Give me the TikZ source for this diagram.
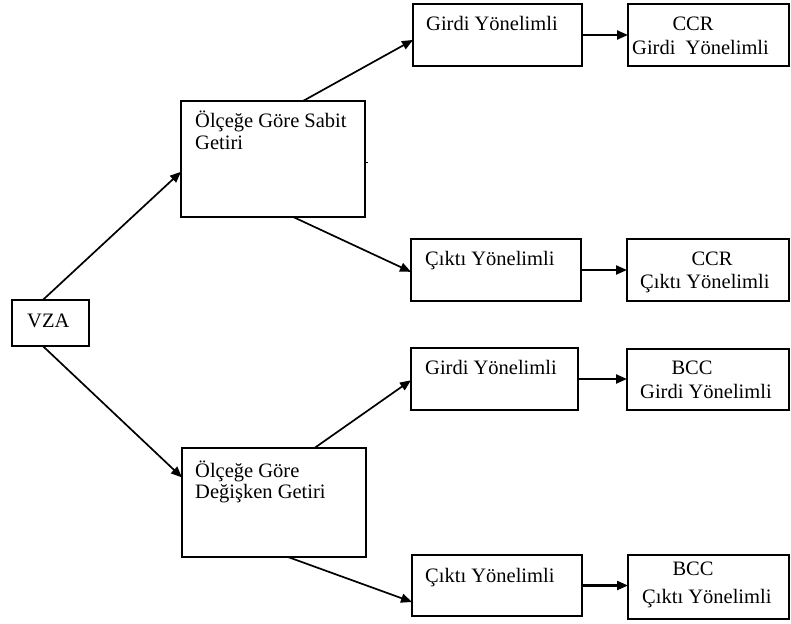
\documentclass[tikz,border=0pt]{standalone}
\usepackage{fontspec}
\setmainfont{Liberation Serif}
\usetikzlibrary{arrows.meta,calc}
\begin{document}
\begin{tikzpicture}[x=1pt,y=-1pt,
  box/.style={draw, line width=1.6pt, inner sep=0pt, outer sep=0pt},
  lbl/.style={anchor=base west, inner sep=0pt, font=\fontsize{20.5}{22}\selectfont},
  clbl/.style={anchor=base, inner sep=0pt, font=\fontsize{20.5}{22}\selectfont},
  conn/.style={line width=1.7pt, -{Triangle[length=11pt,width=9pt]}},
  hconn/.style={line width=2.2pt, -{Triangle[length=11pt,width=9pt]}},
]
\useasboundingbox (0,0) rectangle (791,623);

% boxes
\node[box, minimum width=77pt, minimum height=46pt] (vza) at (50.5,323) {};
\node[box, minimum width=184pt, minimum height=116pt] (sabit) at (273,159) {};
\node[box, minimum width=184pt, minimum height=109pt] (degisken) at (274,502.5) {};
\node[box, minimum width=169pt, minimum height=62pt] (g1) at (497.5,35) {};
\node[box, minimum width=161pt, minimum height=62pt] (ccr1) at (708.5,35) {};
\node[box, minimum width=170pt, minimum height=62pt] (c1) at (496,270) {};
\node[box, minimum width=162pt, minimum height=62pt] (ccr2) at (708,270) {};
\node[box, minimum width=167pt, minimum height=62pt] (g2) at (494.5,379) {};
\node[box, minimum width=162pt, minimum height=61pt] (bcc1) at (708,379.5) {};
\node[box, minimum width=170pt, minimum height=61pt] (c2) at (497,585.5) {};
\node[box, minimum width=161pt, minimum height=64pt] (bcc2) at (708.5,587) {};

% texts
\node[lbl] (tvza) at (27,327) {VZA};
\node[lbl] (tsab1) at (195,127) {Ölçeğe Göre Sabit};
\node[lbl] (tsab2) at (195,149) {Getiri};
\node[lbl] (tdeg1) at (195,477) {Ölçeğe Göre};
\node[lbl] (tdeg2) at (195,498) {Değişken Getiri};
\node[lbl] (tg1) at (426,31) {Girdi Yönelimli};
\node[clbl] (tccr1a) at (693,31) {CCR};
\node[lbl] (tccr1b) at (632,55) {Girdi \ Yönelimli};
\node[lbl] (tc1) at (425,265) {Çıktı Yönelimli};
\node[clbl] (tccr2a) at (712,265) {CCR};
\node[lbl] (tccr2b) at (640,288) {Çıktı Yönelimli};
\node[lbl] (tg2) at (425,374) {Girdi Yönelimli};
\node[clbl] (tbcc1a) at (692,374) {BCC};
\node[lbl] (tbcc1b) at (640,398) {Girdi Yönelimli};
\node[lbl] (tc2) at (425,582) {Çıktı Yönelimli};
\node[clbl] (tbcc2a) at (693,575) {BCC};
\node[lbl] (tbcc2b) at (642,603) {Çıktı Yönelimli};

% connectors
\draw[conn] ($(vza.north west)!0.4!(vza.north east)$) -- ($(sabit.north west)!0.61!(sabit.south west)$);
\draw[conn] ($(vza.south west)!0.4!(vza.south east)$) -- ($(degisken.north west)!0.27!(degisken.south west)$);
\draw[conn] ($(sabit.north west)!0.663!(sabit.north east)$) -- ($(g1.north west)!0.58!(g1.south west)$);
\draw[conn] ($(sabit.south west)!0.61!(sabit.south east)$) -- ($(c1.north west)!0.53!(c1.south west)$);
\draw[conn] ($(degisken.north west)!0.72!(degisken.north east)$) -- ($(g2.north west)!0.52!(g2.south west)$);
\draw[conn] ($(degisken.south west)!0.576!(degisken.south east)$) -- ($(c2.north west)!0.77!(c2.south west)$);

\draw[hconn] (g1.east) -- (ccr1.west);
\draw[hconn] (c1.east) -- (ccr2.west);
\draw[hconn] (g2.east) -- (g2.east -| bcc1.west);
\draw[hconn] (c2.east) -- (c2.east -| bcc2.west);

% small stray tick on the right side of the first box
\coordinate (tick) at ($(sabit.north east)!0.53!(sabit.south east)$);
\draw[line width=1.4pt] (tick) -- ++(3,0);
\end{tikzpicture}
\end{document}
